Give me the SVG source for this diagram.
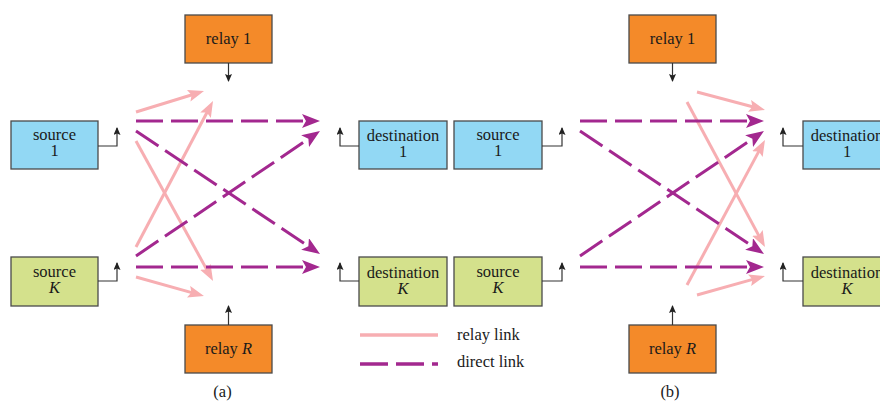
<svg xmlns="http://www.w3.org/2000/svg" width="880" height="401" viewBox="0 0 880 401">
<style>
  .box { stroke: #4a4a4a; stroke-width: 1.3; }
  .relay { fill: #F48A29; }
  .src1 { fill: #92D8F4; }
  .srcK { fill: #D4E18C; }
  text { font-family: 'Liberation Serif', 'DejaVu Serif', serif; font-size: 16.5px; fill: #1a1a1a; text-anchor: middle; }
  .it { font-style: italic; }
  .legend { text-anchor: start; }
  .conn { fill: none; stroke: #333; stroke-width: 1.2; marker-end: url(#small); }
  .direct { fill: none; stroke: #A3288F; stroke-width: 3; stroke-dasharray: 27 8; marker-end: url(#purple); }
  .rl { fill: none; stroke: #F7AEB2; stroke-width: 3; marker-end: url(#pink); }
</style>
<defs>
  <marker id="small" markerUnits="userSpaceOnUse" markerWidth="9" markerHeight="8" refX="7" refY="3.5" orient="auto" viewBox="0 0 9 8">
    <path d="M0,0 L8,3.5 L0,7 L1.5,3.5 z" fill="#222"/>
  </marker>
  <marker id="purple" markerUnits="userSpaceOnUse" markerWidth="19" markerHeight="15" refX="8" refY="7" orient="auto" viewBox="0 0 19 15">
    <path d="M0,0 L18,7 L0,14 L4,7 z" fill="#A3288F"/>
  </marker>
  <marker id="pink" markerUnits="userSpaceOnUse" markerWidth="17" markerHeight="13" refX="7" refY="6" orient="auto" viewBox="0 0 17 13">
    <path d="M0,0 L16,6 L0,12 L3,6 z" fill="#F7AEB2"/>
  </marker>
</defs>

<g font-family="Liberation Serif, DejaVu Serif, serif">
<!-- Panel (a) nodes -->
<g id="a-relay1"><rect class="box relay" x="185" y="15" width="87" height="48"/><text x="228.5" y="44">relay 1</text></g>
<g id="a-source1"><rect class="box src1" x="11" y="121" width="87" height="48"/><text x="54.5" y="140">source</text><text x="54.5" y="156">1</text></g>
<g id="a-dest1"><rect class="box src1" x="359" y="121" width="88" height="48"/><text x="403" y="141">destination</text><text x="403" y="157">1</text></g>
<g id="a-sourceK"><rect class="box srcK" x="11" y="257" width="87" height="49"/><text x="54.5" y="277">source</text><text class="it" x="54.5" y="293">K</text></g>
<g id="a-destK"><rect class="box srcK" x="359" y="257" width="88" height="49"/><text x="403" y="278">destination</text><text class="it" x="403" y="294">K</text></g>
<g id="a-relayR"><rect class="box relay" x="185" y="325" width="87" height="48"/><text x="228.5" y="354">relay <tspan class="it">R</tspan></text></g>

<!-- Panel (b) nodes -->
<g id="b-relay1"><rect class="box relay" x="629" y="15" width="87" height="48"/><text x="672.5" y="44">relay 1</text></g>
<g id="b-source1"><rect class="box src1" x="454" y="121" width="88" height="48"/><text x="498" y="140">source</text><text x="498" y="156">1</text></g>
<g id="b-dest1"><rect class="box src1" x="803" y="121" width="88" height="48"/><text x="847" y="141">destination</text><text x="847" y="157">1</text></g>
<g id="b-sourceK"><rect class="box srcK" x="454" y="257" width="88" height="49"/><text x="498" y="277">source</text><text class="it" x="498" y="293">K</text></g>
<g id="b-destK"><rect class="box srcK" x="803" y="257" width="88" height="49"/><text x="847" y="278">destination</text><text class="it" x="847" y="294">K</text></g>
<g id="b-relayR"><rect class="box relay" x="629" y="325" width="87" height="48"/><text x="672.5" y="354">relay <tspan class="it">R</tspan></text></g>

<!-- Legend -->
<g id="legend">
  <line x1="360" y1="335" x2="438" y2="335" stroke="#F7AEB2" stroke-width="3.5"/>
  <line x1="360" y1="364" x2="438" y2="364" stroke="#A3288F" stroke-width="3.5" stroke-dasharray="28 8"/>
  <text class="legend" x="457" y="340">relay link</text>
  <text class="legend" x="457" y="367">direct link</text>
</g>

<g id="labels">
  <text x="222.5" y="397">(a)</text>
  <text x="670" y="397">(b)</text>
</g>
</g>

<!-- Connectors -->
<g id="connectors">
  <path class="conn" d="M98,146 H117 V128"/>
  <path class="conn" d="M359,146 H340 V128"/>
  <path class="conn" d="M98,281 H117 V263"/>
  <path class="conn" d="M359,281 H340 V263"/>
  <path class="conn" d="M228.5,63 V81"/>
  <path class="conn" d="M228.5,325 V306"/>
  <path class="conn" d="M542,146 H562 V128"/>
  <path class="conn" d="M803,146 H783 V128"/>
  <path class="conn" d="M542,281 H562 V263"/>
  <path class="conn" d="M803,281 H783 V263"/>
  <path class="conn" d="M672.5,63 V81"/>
  <path class="conn" d="M672.5,325 V306"/>

  <path class="rl" d="M136,112 L195.4,93.7"/>
  <path class="rl" d="M136,141 L208.7,273.1"/>
  <path class="rl" d="M136,247 L208.8,109"/>
  <path class="rl" d="M136,277 L195.3,293.6"/>
  <path class="direct" d="M136,121 L310,121"/>
  <path class="direct" d="M136,131 L311.7,248.4"/>
  <path class="direct" d="M136,256 L311.7,136.6"/>
  <path class="direct" d="M136,267 L310,267"/>

  <path class="rl" d="M697,92 L756.3,107.7"/>
  <path class="rl" d="M687,102 L760.7,239.1"/>
  <path class="rl" d="M687,285 L760.7,147.9"/>
  <path class="rl" d="M697,295 L756.3,278.4"/>
  <path class="direct" d="M580,121 L754,121"/>
  <path class="direct" d="M580,131 L755.7,248.4"/>
  <path class="direct" d="M580,256 L755.7,136.6"/>
  <path class="direct" d="M580,267 L754,267"/>
</g>
</svg>
